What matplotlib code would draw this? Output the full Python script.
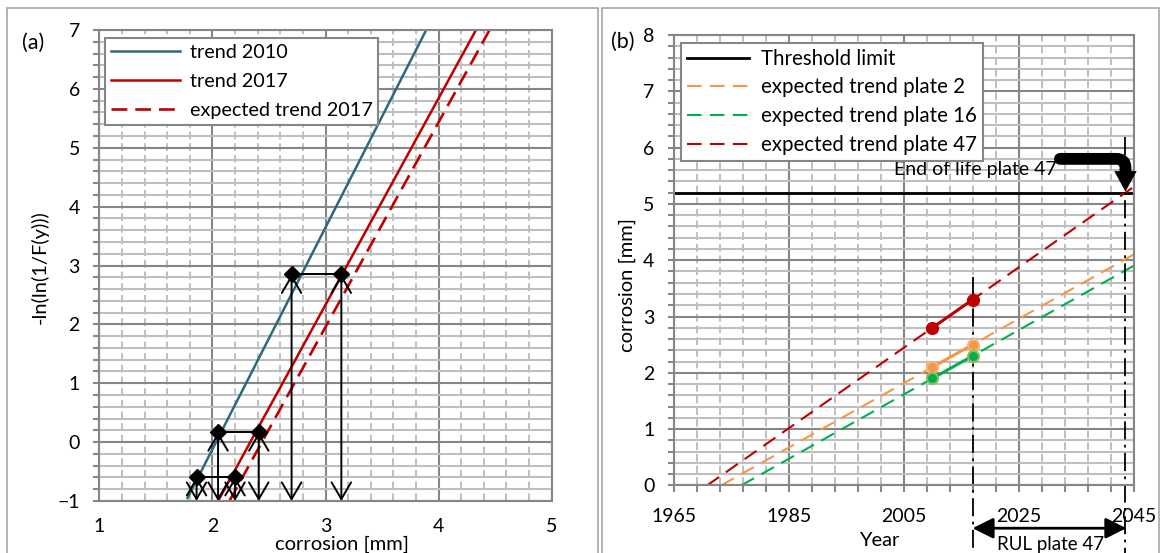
import numpy as np
import matplotlib
matplotlib.use("Agg")
import matplotlib.pyplot as plt
from matplotlib.patches import Rectangle
from matplotlib.ticker import MultipleLocator, FixedLocator

plt.rcParams['font.family'] = ['Lato', 'DejaVu Sans']

# ---- panel (a): probability plot ----
trend2010_x = [1.78, 3.89]
trend2010_y = [-0.95, 7.0]
trend2017_x = [2.05, 4.33]
trend2017_y = [-1.0, 7.0]
exp2017_x = [2.15, 4.45]
exp2017_y = [-1.0, 7.0]

pts2010_x = [1.86, 2.05, 2.70]
pts2017_x = [2.20, 2.41, 3.14]
pts_y = [-0.59, 0.17, 2.85]

# ---- panel (b): corrosion vs year ----
years = [2010, 2017]
plate2 = [2.1, 2.5]
plate16 = [1.9, 2.3]
plate47 = [2.8, 3.3]
threshold = 5.2
year_min, year_max = 1965, 2045

MAJ = '#868686'
MIN = '#BFBFBF'
FS = 13.5

fig = plt.figure(figsize=(11.64, 5.53), dpi=100)

def style_axes(ax):
    ax.set_axisbelow(True)
    ax.grid(which='major', color=MAJ, lw=1.5)
    ax.grid(which='minor', axis='y', color=MIN, lw=1.5)
    ax.grid(which='minor', axis='x', color=MIN, lw=1.4, linestyle=(0, (4, 2)))
    for s in ax.spines.values():
        s.set_color(MAJ)
        s.set_linewidth(1.5)
    ax.tick_params(which='both', colors=MAJ, labelcolor='black', labelsize=14, width=1.5)
    ax.tick_params(axis='y', which='both', direction='out', length=4, pad=10)

# (a)
ax1 = fig.add_axes([0.0853, 0.0940, 0.3887, 0.8517])
ax1.set_xlim(1, 5)
ax1.set_ylim(-1, 7)
ax1.xaxis.set_major_locator(MultipleLocator(1))
ax1.xaxis.set_minor_locator(MultipleLocator(0.2))
ax1.yaxis.set_major_locator(MultipleLocator(1))
ax1.yaxis.set_minor_locator(MultipleLocator(0.2))
style_axes(ax1)
ax1.tick_params(axis='x', which='both', length=0, pad=12)

ax1.plot(trend2010_x, trend2010_y, color='#2B6A7C', lw=1.8, label='trend 2010')
ax1.plot(trend2017_x, trend2017_y, color='#C00000', lw=1.8, label='trend 2017')
ax1.plot(exp2017_x, exp2017_y, color='#C00000', lw=1.9, linestyle=(0, (6, 3)),
         label='expected trend 2017')

for xa, xb, y in zip(pts2010_x, pts2017_x, pts_y):
    ax1.plot([xa, xb], [y, y], color='black', lw=1.4)
    for x in (xa, xb):
        ax1.annotate('', xy=(x, -1), xytext=(x, y),
                     arrowprops=dict(arrowstyle='<->,head_length=1.2,head_width=0.7',
                                     mutation_scale=10, lw=1.4, color='black',
                                     shrinkA=0, shrinkB=0))
ax1.plot(pts2010_x + pts2017_x, pts_y + pts_y, 'D', color='black', ms=8, zorder=5)

leg1 = ax1.legend(loc='upper left', bbox_to_anchor=(0.0126, 0.983), fontsize=14.2,
                  handlelength=3.5, handletextpad=0.5, fancybox=False, framealpha=1,
                  edgecolor=MAJ, labelspacing=0.6, borderaxespad=0, borderpad=0.3)
leg1.get_frame().set_linewidth(1.5)

ax1.text(-0.131, 0.497, '-ln(ln(1/F(y)))', transform=ax1.transAxes, rotation=90,
         ha='center', va='center', fontsize=FS + 1)
ax1.text(0.536, -0.1100, 'corrosion [mm]', transform=ax1.transAxes,
         ha='center', va='bottom', fontsize=FS + 1)

# (b)
ax2 = fig.add_axes([0.5788, 0.1222, 0.3950, 0.8145])
ax2.set_xlim(year_min, year_max)
ax2.set_ylim(0, 8)
ax2.xaxis.set_major_locator(FixedLocator(np.arange(year_min, year_max + 1, 20)))
ax2.xaxis.set_minor_locator(FixedLocator(np.arange(year_min, year_max + 1, 4)))
ax2.yaxis.set_major_locator(MultipleLocator(1))
ax2.yaxis.set_minor_locator(MultipleLocator(0.2))
style_axes(ax2)
ax2.tick_params(axis='x', which='both', direction='out', length=5, pad=11)

ax2.axhline(threshold, color='black', lw=2, label='Threshold limit')

plates = [(plate2, '#F79646', '#FAB07A', 'expected trend plate 2'),
          (plate16, '#00B050', '#8FBC5A', 'expected trend plate 16'),
          (plate47, '#C00000', '#C00000', 'expected trend plate 47')]
for vals, col, edge, lab in plates:
    k, b = np.polyfit(years, vals, 1)
    x0 = -b / k
    xs = np.array([x0, year_max])
    ax2.plot(xs, k * xs + b, color=col, lw=1.5, linestyle=(0, (7, 4)), label=lab)
    ax2.plot(years, vals, '-o', color=col, lw=2.2, ms=8, mfc=col, mec=edge,
             mew=1.5, zorder=4)

k47, b47 = np.polyfit(years, plate47, 1)
end_year = (threshold - b47) / k47

ax2.plot([years[1], years[1]], [3.71, -1.3], color='black', lw=1.3,
         linestyle=(0, (10, 3, 1.5, 3)), clip_on=False)
ax2.plot([end_year, end_year], [6.19, -1.3], color='black', lw=1.3,
         linestyle=(0, (10, 3, 1.5, 3)), clip_on=False)

ax2.annotate('', xy=(end_year + 0.15, -0.76), xytext=(years[1], -0.76),
             xycoords='data', annotation_clip=False,
             arrowprops=dict(arrowstyle='<|-|>,head_length=0.9,head_width=0.45',
                             mutation_scale=14, lw=2, color='black',
                             shrinkA=0, shrinkB=0))
ax2.text(2030.5, -1.195, 'RUL plate 47', ha='center', va='bottom', fontsize=FS,
         clip_on=False)

# end of life arrow
ax2.annotate('', xy=(end_year, 5.46), xytext=(2032.2, 5.80),
             arrowprops=dict(arrowstyle='-', lw=8.5, color='black',
                             connectionstyle='angle,angleA=0,angleB=90,rad=9',
                             shrinkA=0, shrinkB=0))
ax2.annotate('', xy=(end_year, threshold + 0.02), xytext=(end_year, 5.52),
             arrowprops=dict(arrowstyle='-|>,head_length=1.0,head_width=0.55',
                             mutation_scale=14, lw=0.5, color='black',
                             shrinkA=0, shrinkB=0))
ax2.text(2031.6, 5.62, 'End of life plate 47', ha='right', va='center', fontsize=FS + 0.5)

leg2 = ax2.legend(loc='upper left', bbox_to_anchor=(0.0159, 0.983), fontsize=14.8,
                  handlelength=3.0, handletextpad=0.6, fancybox=False, framealpha=1,
                  edgecolor=MAJ, labelspacing=0.42, borderaxespad=0, borderpad=0.3)
leg2.get_frame().set_linewidth(1.5)

ax2.text(-0.1016, 0.445, 'corrosion [mm]', transform=ax2.transAxes, rotation=90,
         ha='center', va='center', fontsize=FS + 1)
ax2.text(0.4465, -0.122, 'Year', transform=ax2.transAxes,
         ha='center', va='center', fontsize=FS + 1)

fig.text(33 / 1164, 1 - 43 / 553, '(a)', ha='center', va='center', fontsize=FS + 2)
fig.text(623 / 1164, 1 - 42 / 553, '(b)', ha='center', va='center', fontsize=FS + 2)

# chart borders
for x0, x1 in [(7, 598), (602, 1159)]:
    fig.add_artist(Rectangle((x0 / 1164, -0.02), (x1 - x0) / 1164, 1.02 - 8 / 553,
                             transform=fig.transFigure, fill=False,
                             edgecolor='#A6A6A6', lw=1.2))

fig.savefig('out.png', dpi=100)
